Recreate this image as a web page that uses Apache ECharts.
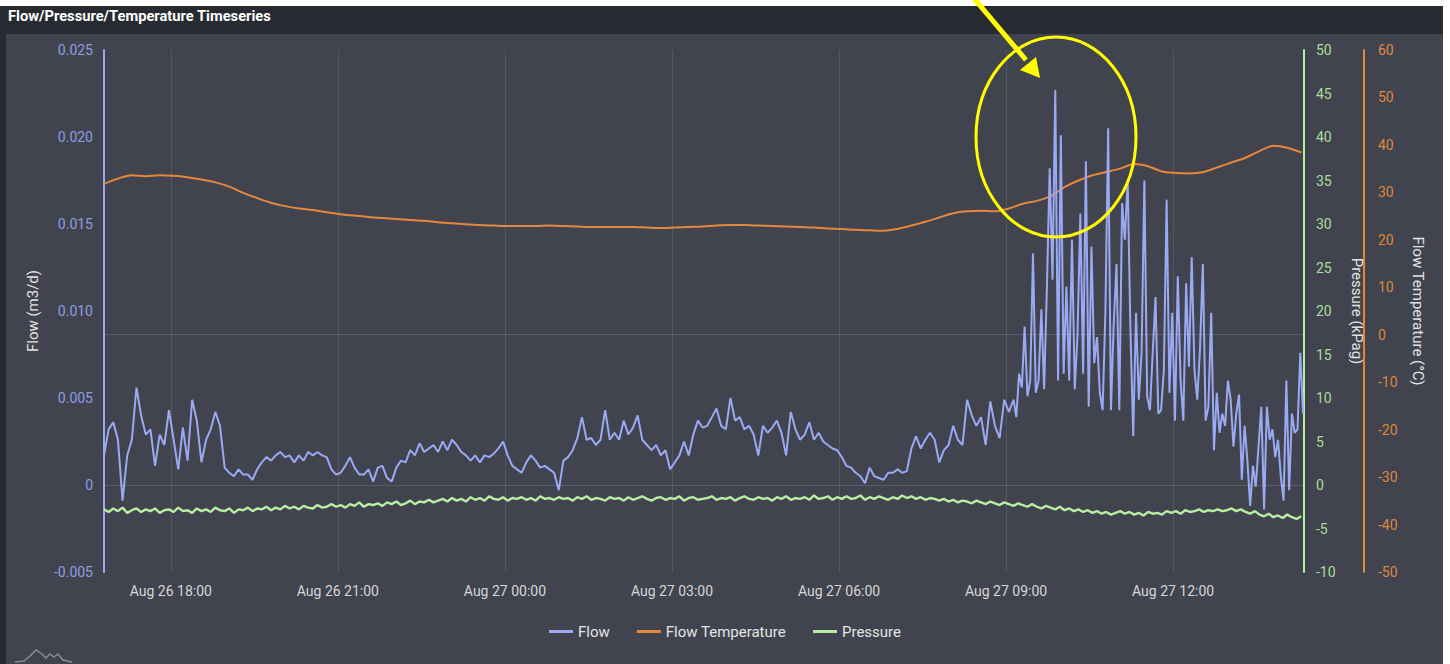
<!DOCTYPE html>
<html>
<head>
<meta charset="utf-8">
<script src="https://cdn.jsdelivr.net/npm/echarts@6/dist/echarts.min.js"></script>
<style>
  html, body { margin:0; padding:0; width:1450px; height:664px; background:#ffffff; overflow:hidden; }
  #frame { position:absolute; left:0; top:6px; width:1443px; height:658px; background:#41444e; }
  #bar { position:absolute; left:0; top:6px; width:1443px; height:28px; background:#272a31; }
  #strip { position:absolute; left:0; top:6px; width:6px; height:658px; background:#272a31; }
  #chart { position:absolute; left:0; top:0; width:1450px; height:664px; }
</style>
</head>
<body>
<div id="frame"></div>
<div id="bar"></div>
<div id="strip"></div>
<div id="chart"></div>
<script>
// ---------------- DATA ----------------
const TITLE = 'Flow/Pressure/Temperature Timeseries';
const MONTHS = ['Jan','Feb','Mar','Apr','May','Jun','Jul','Aug','Sep','Oct','Nov','Dec'];
const YEAR = 2024, MONTH = 7;                 // August
const START = [26, 16, 48];                   // day, hour, minute of first sample
const AXIS_END = [27, 14, 21];
const FLOW_EARLY_STEP_MIN = 5;                // Aug 26 16:48 .. Aug 27 09:03
const FLOW_LATE_START = [27, 9, 8];
const FLOW_LATE_STEP_MIN = 3;                 // Aug 27 09:08 .. 14:20
const PRESSURE_STEP_MIN = 5;
const TEMP_STEP_MIN = 15;
// x tick positions (day, hour)
const X_TICKS = [[26, 18], [26, 21], [27, 0], [27, 3], [27, 6], [27, 9], [27, 12]];

// Flow (m3/d), early part, one value every 5 minutes
const flowEarly = [
 0.0017,0.0032,0.0036,0.0026,-0.0009,0.0017,0.0026,0.0056,0.0040,0.0029,
 0.0032,0.0011,0.0029,0.0023,0.0043,0.0026,0.0009,0.0033,0.0014,0.0049,
 0.0037,0.0013,0.0026,0.0032,0.0042,0.0034,0.0010,0.0007,0.0005,0.0009,
 0.0006,0.0006,0.0003,0.0009,0.0013,0.0016,0.0014,0.0017,0.0019,0.0016,
 0.0017,0.0013,0.0017,0.0014,0.0019,0.0017,0.0019,0.0017,0.0016,0.0009,
 0.0006,0.0007,0.0011,0.0016,0.0010,0.0006,0.0006,0.0009,0.0002,0.0010,
 0.0011,0.0004,0.0002,0.0010,0.0014,0.0013,0.0020,0.0017,0.0024,0.0019,
 0.0021,0.0023,0.0019,0.0025,0.0020,0.0026,0.0023,0.0019,0.0017,0.0014,
 0.0017,0.0013,0.0017,0.0016,0.0018,0.0021,0.0025,0.0017,0.0011,0.0009,
 0.0007,0.0013,0.0017,0.0014,0.0010,0.0011,0.0009,0.0007,-0.0003,0.0014,
 0.0016,0.0020,0.0027,0.0039,0.0026,0.0027,0.0023,0.0026,0.0043,0.0026,
 0.0030,0.0026,0.0037,0.0029,0.0033,0.0040,0.0026,0.0023,0.0020,0.0023,
 0.0017,0.0020,0.0009,0.0013,0.0017,0.0025,0.0017,0.0029,0.0037,0.0033,
 0.0034,0.0039,0.0044,0.0034,0.0032,0.0050,0.0037,0.0039,0.0032,0.0034,
 0.0029,0.0017,0.0034,0.0030,0.0033,0.0037,0.0030,0.0017,0.0042,0.0032,
 0.0026,0.0029,0.0036,0.0026,0.0030,0.0025,0.0023,0.0021,0.0020,0.0016,
 0.0011,0.0010,0.0007,0.0005,0.0001,0.0010,0.0005,0.0004,0.0003,0.0007,
 0.0007,0.0009,0.0007,0.0008,0.0021,0.0028,0.0021,0.0026,0.0030,0.0026,
 0.0013,0.0020,0.0023,0.0034,0.0026,0.0023,0.0049,0.0040,0.0034,0.0039,
 0.0023,0.0048,0.0034,0.0027,0.0049,0.0042
];

// Flow (m3/d), late spiky part, one value every 3 minutes
const flowLate = [
 0.0049,0.0039,0.0064,0.0056,0.0091,0.0051,0.0060,0.0133,0.0053,0.0060,
 0.0101,0.0055,0.0114,0.0182,0.0118,0.0227,0.0060,0.0201,0.0064,0.0114,
 0.0060,0.0141,0.0055,0.0087,0.0156,0.0064,0.0186,0.0045,0.0137,0.0070,
 0.0085,0.0053,0.0043,0.0099,0.0205,0.0043,0.0093,0.0127,0.0043,0.0162,
 0.0141,0.0175,0.0089,0.0028,0.0099,0.0049,0.0076,0.0175,0.0051,0.0043,
 0.0076,0.0108,0.0041,0.0043,0.0066,0.0164,0.0053,0.0099,0.0037,0.0120,
 0.0060,0.0037,0.0116,0.0068,0.0131,0.0066,0.0049,0.0079,0.0127,0.0037,
 0.0045,0.0099,0.0020,0.0053,0.0030,0.0041,0.0034,0.0060,0.0049,0.0022,
 0.0041,0.0052,0.0003,0.0034,0.0014,-0.0012,0.0011,-0.0001,0.0022,0.0045,
 -0.0014,0.0045,0.0026,0.0032,0.0016,0.0026,0.0005,-0.0009,0.0060,-0.0003,
 0.0041,0.0030,0.0032,0.0076,0.0041
];

// Pressure (kPag), one value every 5 minutes
const pressureValues = [
 -2.8,-3.1,-2.7,-3.0,-2.6,-3.2,-2.9,-2.7,-3.1,-2.8,
 -3.0,-2.7,-3.2,-2.9,-2.8,-3.1,-2.6,-3.0,-2.9,-3.2,
 -2.7,-3.0,-2.8,-3.1,-2.6,-2.9,-3.0,-2.7,-3.2,-2.8,
 -2.9,-2.6,-3.0,-2.7,-2.8,-2.5,-2.9,-2.6,-2.8,-2.4,
 -2.7,-2.5,-2.8,-2.4,-2.6,-2.7,-2.3,-2.6,-2.5,-2.2,
 -2.5,-2.3,-2.6,-2.2,-2.4,-2.0,-2.5,-2.2,-2.3,-2.1,
 -2.4,-2.0,-2.2,-1.9,-2.3,-2.1,-1.8,-2.2,-1.9,-2.0,
 -1.7,-2.0,-1.8,-1.6,-1.9,-1.5,-1.8,-1.6,-1.9,-1.4,
 -1.7,-1.5,-1.8,-1.3,-1.6,-1.7,-1.4,-1.8,-1.5,-1.6,
 -1.4,-1.7,-1.5,-1.8,-1.3,-1.6,-1.5,-1.7,-1.4,-1.6,
 -1.5,-1.8,-1.4,-1.6,-1.3,-1.7,-1.5,-1.6,-1.8,-1.4,
 -1.6,-1.5,-1.8,-1.4,-1.7,-1.5,-1.3,-1.6,-1.8,-1.5,
 -1.4,-1.7,-1.5,-1.6,-1.3,-1.8,-1.5,-1.4,-1.7,-1.6,
 -1.5,-1.3,-1.7,-1.5,-1.6,-1.4,-1.8,-1.5,-1.3,-1.6,
 -1.7,-1.4,-1.6,-1.5,-1.8,-1.4,-1.6,-1.3,-1.7,-1.5,
 -1.6,-1.4,-1.7,-1.2,-1.6,-1.5,-1.3,-1.7,-1.4,-1.6,
 -1.3,-1.6,-1.5,-1.2,-1.7,-1.4,-1.6,-1.3,-1.5,-1.7,
 -1.4,-1.6,-1.2,-1.5,-1.3,-1.6,-1.4,-1.7,-1.5,-1.6,
 -1.8,-1.6,-1.9,-1.7,-2.0,-1.8,-1.9,-2.1,-1.8,-2.0,
 -2.2,-1.9,-2.1,-2.3,-2.0,-2.2,-2.4,-2.1,-2.3,-2.5,
 -2.2,-2.5,-2.7,-2.4,-2.6,-2.8,-2.5,-2.9,-2.7,-3.0,
 -2.8,-3.1,-2.9,-3.2,-3.0,-3.3,-3.1,-3.4,-3.2,-3.0,
 -3.3,-3.1,-3.4,-3.2,-3.5,-3.1,-3.3,-3.2,-3.4,-3.0,
 -3.2,-3.0,-3.3,-2.9,-3.1,-3.0,-2.8,-3.1,-2.9,-3.0,
 -2.8,-3.0,-2.9,-2.7,-3.0,-2.8,-3.1,-3.3,-3.0,-3.4,
 -3.6,-3.3,-3.7,-3.5,-3.8,-3.4,-3.7,-3.9,-3.6
];

// Flow Temperature (°C), one value every 15 minutes
const temperatureValues = [
 31.8,32.9,33.6,33.4,33.6,33.5,33.2,32.7,32.1,31.2,
 29.9,28.8,27.8,27.1,26.6,26.3,25.8,25.4,25.1,24.8,
 24.6,24.4,24.2,24.0,23.7,23.5,23.3,23.1,23.0,22.9,
 22.9,22.9,23.0,22.9,22.8,22.7,22.7,22.7,22.7,22.6,
 22.5,22.6,22.7,22.8,23.0,23.1,23.1,23.0,22.9,22.8,
 22.7,22.6,22.4,22.3,22.1,22.0,21.9,22.3,23.0,23.8,
 24.7,25.6,26.0,26.1,26.0,26.6,27.6,28.2,29.2,31.1,
 32.5,33.6,34.3,35.0,36.0,35.5,34.4,34.1,34.0,34.3,
 35.3,36.3,37.3,38.7,39.8,39.4,38.4
];

const flowAxis = { name: 'Flow (m3/d)', min: -0.005, max: 0.025, interval: 0.005 };
const pressureAxis = { name: 'Pressure (kPag)', min: -10, max: 50, interval: 5 };
const tempAxis = { name: 'Flow Temperature (°C)', min: -50, max: 60, interval: 10 };
const legendNames = ['Flow', 'Flow Temperature', 'Pressure'];

// ---------------- STYLE ----------------
const C_FLOW = '#9aa9f2';
const C_TEMP = '#e5873b';
const C_PRES = '#b6efa2';
const FONT = 'Roboto, "Noto Sans", sans-serif';

function ts(day, hour, minute) { return new Date(YEAR, MONTH, day, hour, minute || 0).getTime(); }
const START_TIME = ts(START[0], START[1], START[2]);
const AXIS_END_TIME = ts(AXIS_END[0], AXIS_END[1], AXIS_END[2]);
const FLOW_LATE_TIME = ts(FLOW_LATE_START[0], FLOW_LATE_START[1], FLOW_LATE_START[2]);
const X_TICK_TIMES = X_TICKS.map(t => ts(t[0], t[1], 0));

function toPairs(values, t0, stepMin) {
  return values.map((v, i) => [t0 + i * stepMin * 60000, v]);
}
function pad(n) { return (n < 10 ? '0' : '') + n; }
function fmtTime(val) {
  const d = new Date(val);
  return MONTHS[d.getMonth()] + ' ' + pad(d.getDate()) + ' ' + pad(d.getHours()) + ':' + pad(d.getMinutes());
}

const flowData = toPairs(flowEarly, START_TIME, FLOW_EARLY_STEP_MIN)
  .concat(toPairs(flowLate, FLOW_LATE_TIME, FLOW_LATE_STEP_MIN));

const chart = echarts.init(document.getElementById('chart'), null, { renderer: 'svg' });
const zeroLine = {
  silent: true, symbol: 'none', label: { show: false },
  lineStyle: { color: 'rgba(255,255,255,0.13)', type: 'solid', width: 1 },
  emphasis: { disabled: true },
  data: [{ yAxis: 0 }]
};

chart.setOption({
  animation: false,
  backgroundColor: 'transparent',
  textStyle: { fontFamily: FONT },
  title: {
    text: TITLE, left: 3, top: 3,
    textStyle: { color: '#ffffff', fontSize: 14.7, fontWeight: 'bold', fontFamily: FONT }
  },
  legend: {
    data: legendNames, left: 'center', top: 619,
    icon: 'rect', itemWidth: 24, itemHeight: 3, itemGap: 27,
    textStyle: { color: '#e4e4e4', fontSize: 15, fontFamily: FONT }
  },
  grid: { left: 104, right: 146, top: 50, bottom: 92, containLabel: false },
  xAxis: {
    type: 'value',
    min: START_TIME, max: AXIS_END_TIME,
    axisLine: { show: false },
    axisTick: { show: false, customValues: X_TICK_TIMES },
    axisLabel: { color: '#d6d6d6', fontSize: 14, margin: 12, formatter: fmtTime,
                 customValues: X_TICK_TIMES, hideOverlap: false },
    splitLine: { show: true, lineStyle: { color: 'rgba(255,255,255,0.1)', width: 1 } }
  },
  yAxis: [
    {
      type: 'value', position: 'left', min: flowAxis.min, max: flowAxis.max, interval: flowAxis.interval,
      name: flowAxis.name, nameLocation: 'middle', nameGap: 64,
      nameTextStyle: { color: '#e2e2e2', fontSize: 15 },
      axisLine: { show: true, lineStyle: { color: C_FLOW, width: 2 } },
      axisTick: { show: false },
      axisLabel: { color: '#8d9de2', fontSize: 14, margin: 11,
                   formatter: v => (Math.abs(v) < 1e-12 ? '0' : v.toFixed(3)) },
      splitLine: { show: false }
    },
    {
      type: 'value', position: 'right', offset: 0,
      min: pressureAxis.min, max: pressureAxis.max, interval: pressureAxis.interval,
      name: pressureAxis.name, nameLocation: 'middle', nameGap: 45, nameRotate: -90,
      nameTextStyle: { color: '#e2e2e2', fontSize: 15 },
      axisLine: { show: true, lineStyle: { color: C_PRES, width: 2 } },
      axisTick: { show: false },
      axisLabel: { color: '#a9de9b', fontSize: 14, margin: 12 },
      splitLine: { show: false }
    },
    {
      type: 'value', position: 'right', offset: 60,
      min: tempAxis.min, max: tempAxis.max, interval: tempAxis.interval,
      name: tempAxis.name, nameLocation: 'middle', nameGap: 46, nameRotate: -90,
      nameTextStyle: { color: '#e2e2e2', fontSize: 15 },
      axisLine: { show: true, lineStyle: { color: C_TEMP, width: 2 } },
      axisTick: { show: false },
      axisLabel: { color: '#dc873f', fontSize: 14, margin: 14 },
      splitLine: { show: false }
    }
  ],
  series: [
    {
      name: 'Flow', type: 'line', yAxisIndex: 0, z: 4,
      data: flowData,
      showSymbol: false, symbol: 'none',
      lineStyle: { color: C_FLOW, width: 2 }, itemStyle: { color: C_FLOW },
      markLine: zeroLine
    },
    {
      name: 'Flow Temperature', type: 'line', yAxisIndex: 2, z: 3,
      data: toPairs(temperatureValues, START_TIME, TEMP_STEP_MIN),
      showSymbol: false, symbol: 'none', smooth: 0.3,
      lineStyle: { color: C_TEMP, width: 2 }, itemStyle: { color: C_TEMP },
      markLine: zeroLine
    },
    {
      name: 'Pressure', type: 'line', yAxisIndex: 1, z: 3,
      data: toPairs(pressureValues, START_TIME, PRESSURE_STEP_MIN),
      showSymbol: false, symbol: 'none',
      lineStyle: { color: C_PRES, width: 2.4 }, itemStyle: { color: C_PRES }
    }
  ],
  graphic: [
    { type: 'ellipse', shape: { cx: 1056, cy: 137, rx: 80, ry: 100 }, z: 100,
      style: { fill: 'none', stroke: '#ffff00', lineWidth: 3 } },
    { type: 'line', shape: { x1: 972, y1: -4, x2: 1026, y2: 60 }, z: 100,
      style: { stroke: '#ffff00', lineWidth: 5 } },
    { type: 'polygon', shape: { points: [[1020, 70], [1040, 78], [1036, 57]] }, z: 100,
      style: { fill: '#ffff00' } },
    { type: 'polyline', z: 100,
      shape: { points: [[15,662],[24,661],[30,656],[36,650],[42,654],[46,658],[50,654],[54,657],[58,654],[63,660],[72,662]] },
      style: { stroke: '#8a8d96', lineWidth: 1.5, fill: 'none' } }
  ]
});
</script>
</body>
</html>
